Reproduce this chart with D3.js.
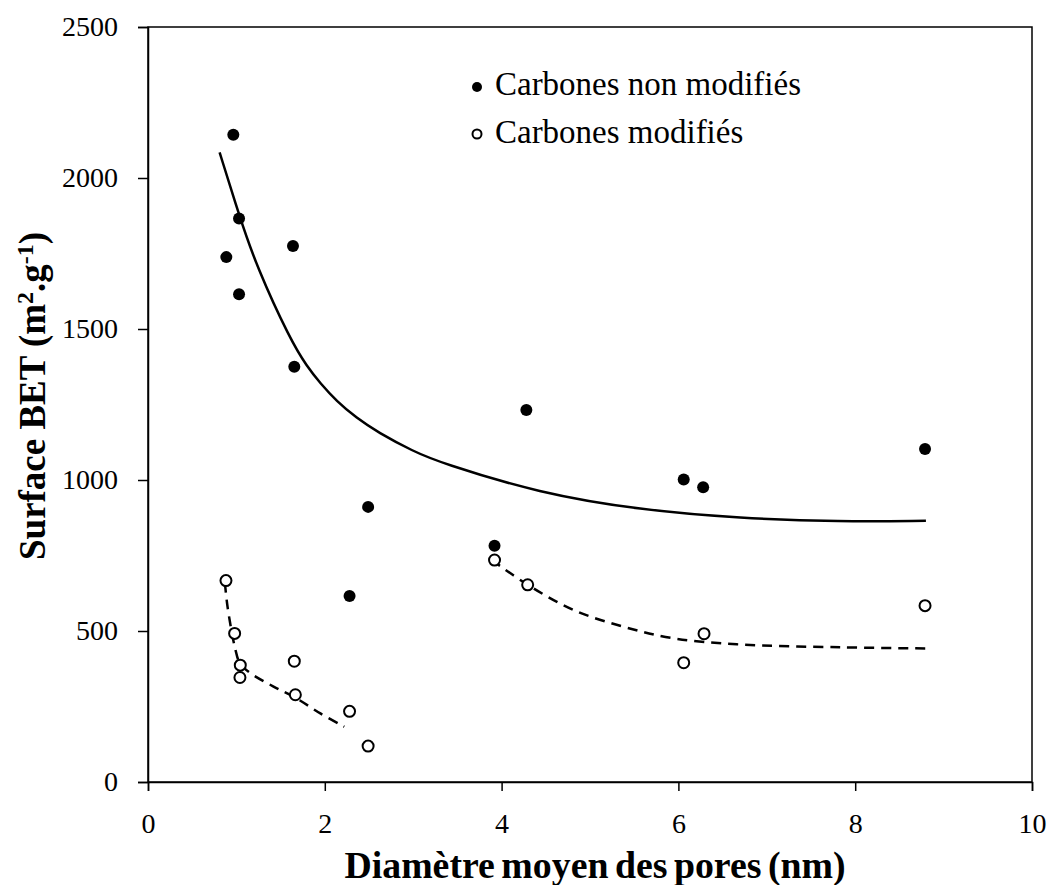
<!DOCTYPE html>
<html><head><meta charset="utf-8">
<script src="https://cdn.jsdelivr.net/npm/d3@7"></script>
<style>body{margin:0;background:#fff}svg{display:block}text{font-family:"Liberation Serif","Times New Roman",serif;fill:#000}</style>
</head><body><svg id="c" width="1053" height="885"></svg>
<script>
// Filled points: Carbones non modifiés
const nonModX = [0.965, 1.03, 1.64, 0.886, 1.03, 1.655, 2.49, 2.28, 4.28, 6.06, 6.28, 3.92, 8.79];
const nonModY = [2143, 1866, 1775, 1738, 1615, 1375, 911, 616, 1232, 1002, 976, 782, 1103];
// Open points: Carbones modifiés
const modX = [0.882, 0.98, 1.044, 1.04, 1.655, 1.667, 2.28, 2.49, 3.92, 4.295, 6.29, 6.06, 8.79];
const modY = [667, 492, 387, 346, 400, 289, 234, 119, 735, 653, 491, 395, 584];
// Trend curve (solid)
const trendNonX = [0.81, 1.04, 1.23, 1.61, 1.8, 1.95, 2.13, 2.36, 2.6, 3.0, 3.30, 4.43, 5.57, 6.70, 7.83, 8.8];
const trendNonY = [2085, 1868, 1706, 1464, 1375, 1320, 1262, 1205, 1158, 1095, 1058, 956, 901, 873, 862, 865];
// Trend curves (dashed)
const trendMod1X = [0.87, 0.9, 0.985, 1.04, 1.15, 1.42, 1.68, 1.95, 2.22];
const trendMod1Y = [660, 580, 443, 393, 362, 316, 277, 227, 183];
const trendMod2X = [3.89, 4.295, 4.81, 5.38, 5.94, 6.66, 7.83, 8.85];
const trendMod2Y = [735, 653, 570, 514, 476, 456, 446, 442];
const xTicks = [0, 2, 4, 6, 8, 10];
const yTicks = [0, 500, 1000, 1500, 2000, 2500];
const legendLabels = ["Carbones non modifiés", "Carbones modifiés"];
const xTitle = "Diamètre moyen des pores (nm)";

const svg = d3.select("#c");
const x = d3.scaleLinear().domain([0, 10]).range([148, 1032]);
const y = d3.scaleLinear().domain([0, 2500]).range([782, 27]);

// fit a text to a target width by adjusting font size
function fitWidth(sel, w) {
  const node = sel.node();
  const fs = parseFloat(sel.style("font-size"));
  const cw = node.getComputedTextLength();
  if (cw > 0) sel.style("font-size", (fs * w / cw).toFixed(2) + "px");
  return sel.style("font-size");
}

// frame
svg.append("rect").attr("x", 148).attr("y", 27).attr("width", 1032 - 148).attr("height", 782 - 27)
  .attr("fill", "none").attr("stroke", "#000").attr("stroke-width", 1.5);

const xAxis = svg.append("g").attr("transform", "translate(0,782)")
  .call(d3.axisBottom(x).tickValues(xTicks).tickSize(9).tickPadding(14).tickFormat(d3.format("d")));
const yAxis = svg.append("g").attr("transform", "translate(148,0)")
  .call(d3.axisLeft(y).tickValues(yTicks).tickSize(10).tickPadding(20).tickFormat(d3.format("d")));
[xAxis, yAxis].forEach(g => {
  g.attr("font-family", null).attr("font-size", null);
  g.select(".domain").attr("stroke-width", 1.5);
  g.selectAll(".tick line").attr("stroke-width", 1.5);
  g.selectAll("text").style("font-size", "28px");
});
// size tick labels so that "2500" spans the same width as in the reference
const t2500 = yAxis.selectAll(".tick text").filter(d => d === 2500);
const tickFs = fitWidth(t2500, 56);
xAxis.selectAll("text").style("font-size", tickFs);
yAxis.selectAll("text").style("font-size", tickFs);
xAxis.selectAll("text").attr("y", 51).attr("dy", 0);

const line = d3.line().x(d => x(d[0])).y(d => y(d[1])).curve(d3.curveBasis);
const line2 = d3.line().x(d => x(d[0])).y(d => y(d[1])).curve(d3.curveCatmullRom);
const zip = (a, b) => a.map((v, i) => [v, b[i]]);

svg.append("path").attr("d", line(zip(trendNonX, trendNonY))).attr("fill", "none")
  .attr("stroke", "#000").attr("stroke-width", 2.5);
[zip(trendMod1X, trendMod1Y), zip(trendMod2X, trendMod2Y)].forEach(p => {
  svg.append("path").attr("d", line2(p)).attr("fill", "none")
    .attr("stroke", "#000").attr("stroke-width", 2.5).attr("stroke-dasharray", "10,7");
});

svg.append("g").selectAll("circle").data(zip(nonModX, nonModY)).join("circle")
  .attr("cx", d => x(d[0])).attr("cy", d => y(d[1])).attr("r", 6).attr("fill", "#000");
svg.append("g").selectAll("circle").data(zip(modX, modY)).join("circle")
  .attr("cx", d => x(d[0])).attr("cy", d => y(d[1])).attr("r", 5.5).attr("fill", "#fff")
  .attr("stroke", "#000").attr("stroke-width", 2);

// legend
const lg = svg.append("g");
lg.append("circle").attr("cx", 477).attr("cy", 87).attr("r", 5).attr("fill", "#000");
lg.append("circle").attr("cx", 477).attr("cy", 134).attr("r", 4.5).attr("fill", "#fff").attr("stroke", "#000").attr("stroke-width", 2);
const l1 = lg.append("text").attr("x", 495).attr("y", 95).style("font-size", "30px").text(legendLabels[0]);
const l2 = lg.append("text").attr("x", 495).attr("y", 143).style("font-size", "30px").text(legendLabels[1]);
l2.style("font-size", fitWidth(l1, 306));

// axis titles
const xt = svg.append("text").attr("x", 595).attr("y", 878).attr("text-anchor", "middle")
  .style("font-size", "34px").style("font-weight", "bold").style("word-spacing", "-3px").text(xTitle);
fitWidth(xt, 500);
const yt = svg.append("text").attr("transform", "translate(45,396) rotate(-90)").attr("text-anchor", "middle")
  .style("font-size", "34px").style("font-weight", "bold");
yt.append("tspan").text("Surface BET (m");
yt.append("tspan").attr("dy", -12).style("font-size", "22px").text("2");
yt.append("tspan").attr("dy", 12).text(".g");
yt.append("tspan").attr("dy", -12).style("font-size", "22px").text("-1");
yt.append("tspan").attr("dy", 12).text(")");
{
  const cw = yt.node().getComputedTextLength();
  if (cw > 0) {
    const k = 328 / cw;
    yt.style("font-size", (34 * k).toFixed(2) + "px");
    yt.selectAll("tspan").filter((d, i) => i === 1 || i === 3).style("font-size", (22 * k).toFixed(2) + "px");
  }
}
</script></body></html>
